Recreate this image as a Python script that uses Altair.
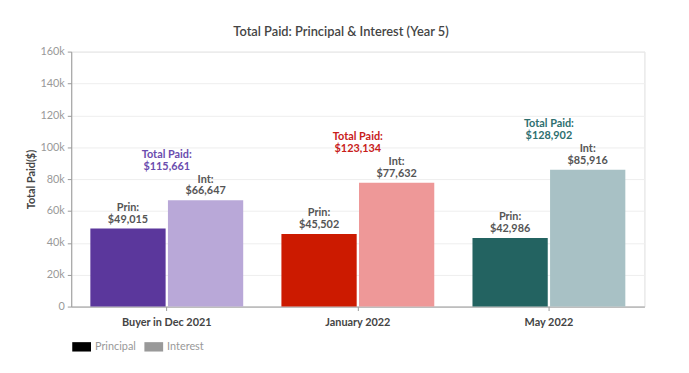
import altair as alt
import pandas as pd

categories = ["Buyer in Dec 2021", "January 2022", "May 2022"]
principal = [49015, 45502, 42986]
interest = [66647, 77632, 85916]
totals = [115661, 123134, 128902]
prin_colors = ["#5b379c", "#cc1a00", "#236361"]
int_colors = ["#b9a8d8", "#ee9898", "#a8c1c5"]
total_colors = ["#6a4cae", "#c8201a", "#2e6f6f"]
y_ticks = [0, 20000, 40000, 60000, 80000, 100000, 120000, 140000, 160000]

rows = []
for i, c in enumerate(categories):
    rows.append({"cat": c, "type": "Principal", "value": principal[i],
                 "key": f"{i}P", "label": f"Prin:\n${principal[i]:,}"})
    rows.append({"cat": c, "type": "Interest", "value": interest[i],
                 "key": f"{i}I", "label": f"Int:\n${interest[i]:,}"})
bars_df = pd.DataFrame(rows)

tot_df = pd.DataFrame({
    "cat": categories,
    "value": interest,
    "label": [f"Total Paid:\n${t:,}" for t in totals],
    "tkey": [str(i) for i in range(3)],
})

keys = []
cols = []
for i in range(3):
    keys += [f"{i}P", f"{i}I"]
    cols += [prin_colors[i], int_colors[i]]

FONT = "Lato"

x_enc = alt.X("cat:N", sort=categories, title=None,
              scale=alt.Scale(paddingInner=0.2, paddingOuter=0.1),
              axis=alt.Axis(labelFont=FONT, labelFontSize=11, labelFontWeight="bold",
                            labelColor="#444", labelPadding=6, domainColor="#999",
                            tickColor="#999", tickSize=4, labelAngle=0))
y_enc = alt.Y("value:Q", title="Total Paid($)",
              scale=alt.Scale(domain=[0, 160000], nice=False),
              axis=alt.Axis(values=y_ticks,
                            labelExpr="datum.value == 0 ? '0' : (datum.value / 1000) + 'k'",
                            labelFont=FONT, labelFontSize=11,
                            labelColor="#999", titleFont=FONT, titleFontSize=11,
                            titleFontWeight="bold", titleColor="#444", titlePadding=3,
                            domainColor="#999", tickColor="#999", tickSize=4,
                            gridColor="#eeeeee", labelPadding=3))

xoff = alt.XOffset("type:N", sort=["Principal", "Interest"],
                   scale=alt.Scale(paddingInner=0.03))

bars = alt.Chart(bars_df).mark_bar().encode(
    x=x_enc, y=y_enc, xOffset=xoff,
    color=alt.Color("key:N", scale=alt.Scale(domain=keys, range=cols), legend=None),
)

bar_text = alt.Chart(bars_df).mark_text(
    baseline="bottom", dy=-16, font=FONT, fontSize=11, fontWeight="bold",
    color="#555", lineBreak="\n", lineHeight=12,
).encode(x=x_enc, y=y_enc, xOffset=xoff, text="label:N")

tot_text = alt.Chart(tot_df).mark_text(
    baseline="bottom", dy=-41, font=FONT, fontSize=11, fontWeight="bold",
    lineBreak="\n", lineHeight=12,
).encode(
    x=x_enc, y=y_enc, text="label:N",
    color=alt.Color("tkey:N", scale=alt.Scale(domain=["0", "1", "2"], range=total_colors),
                    legend=None),
)

legend_layer = alt.Chart(bars_df).mark_point(opacity=0).encode(
    x=x_enc, y=y_enc,
    fill=alt.Fill("type:N", sort=["Principal", "Interest"],
                  scale=alt.Scale(domain=["Principal", "Interest"], range=["#000000", "#999999"]),
                  legend=alt.Legend(title=None, orient="none", direction="horizontal",
                                    legendX=1, legendY=289, symbolType="M-1,-0.5L1,-0.5L1,0.5L-1,0.5Z",
                                    symbolSize=360, symbolOpacity=1, symbolStrokeWidth=0,
                                    labelFont=FONT, labelFontSize=11, labelColor="#999",
                                    columnPadding=8, labelOffset=4)),
)

chart = alt.layer(bars, bar_text, tot_text, legend_layer).resolve_scale(
    color="independent"
).properties(
    width=580, height=258,
    title=alt.Title("Total Paid: Principal & Interest (Year 5)", font=FONT, fontSize=13,
                    fontWeight=600, color="#444", anchor="middle", dx=-17, offset=7),
    autosize=alt.AutoSizeParams(type="none"),
    padding={"left": 64, "top": 42, "right": 37, "bottom": 57},
).configure_view(stroke=None).configure(background="#ffffff")

chart.save("out.html", embed_options={"renderer": "svg", "actions": False})
